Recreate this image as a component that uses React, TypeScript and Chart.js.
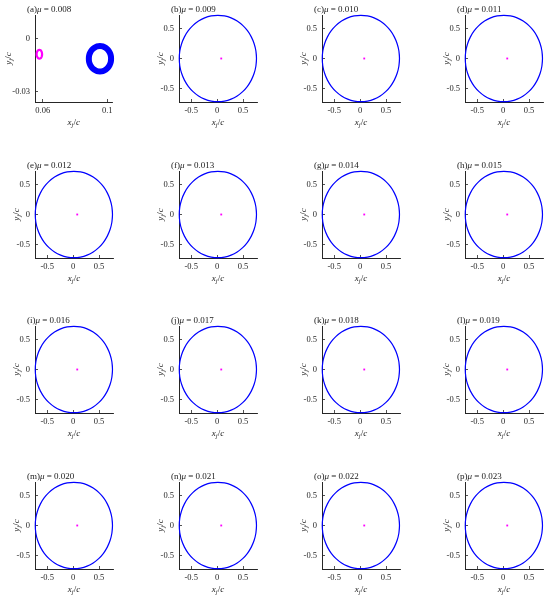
import React, { useEffect, useRef } from "react";
import { Chart, registerables } from "chart.js";

Chart.register(...registerables);

// ---------- data ----------
const panelLetters = ["a", "b", "c", "d", "e", "f", "g", "h", "i", "j", "k", "l", "m", "n", "o", "p"];
const muValues = ["0.008", "0.009", "0.010", "0.011", "0.012", "0.013", "0.014", "0.015", "0.016", "0.017", "0.018", "0.019", "0.020", "0.021", "0.022", "0.023"];

// orbit (panels b–p)
const orbitX = [0.76, 0.749, 0.715, 0.66, 0.586, 0.494, 0.388, 0.27, 0.144, 0.015, -0.114, -0.24, -0.358, -0.464, -0.556, -0.63, -0.685, -0.719, -0.73, -0.719, -0.685, -0.63, -0.556, -0.464, -0.358, -0.24, -0.114, 0.015, 0.144, 0.27, 0.388, 0.494, 0.586, 0.66, 0.715, 0.749];
const orbitY = [0, 0.126, 0.248, 0.363, 0.466, 0.555, 0.628, 0.681, 0.714, 0.725, 0.714, 0.681, 0.628, 0.555, 0.466, 0.363, 0.248, 0.126, 0, -0.126, -0.248, -0.363, -0.466, -0.555, -0.628, -0.681, -0.714, -0.725, -0.714, -0.681, -0.628, -0.555, -0.466, -0.363, -0.248, -0.126];
const companionX = [0.08];
const companionY = [0];

// panel (a)
const ringAX = [0.1024, 0.1022, 0.1015, 0.1004, 0.099, 0.0973, 0.0955, 0.0937, 0.0921, 0.0906, 0.0895, 0.0888, 0.0886, 0.0888, 0.0895, 0.0906, 0.0921, 0.0937, 0.0955, 0.0973, 0.099, 0.1004, 0.1015, 0.1022];
const ringAY = [-0.0113, -0.0094, -0.0077, -0.0062, -0.0051, -0.0043, -0.0041, -0.0043, -0.0051, -0.0062, -0.0077, -0.0094, -0.0113, -0.0132, -0.0149, -0.0164, -0.0175, -0.0183, -0.0185, -0.0183, -0.0175, -0.0164, -0.0149, -0.0132];
const magRingAX = [0.0596, 0.0594, 0.0588, 0.0579, 0.0571, 0.0564, 0.0562, 0.0564, 0.0571, 0.0579, 0.0588, 0.0594];
const magRingAY = [-0.0087, -0.0075, -0.0065, -0.0062, -0.0065, -0.0075, -0.0087, -0.01, -0.0109, -0.0112, -0.0109, -0.01];

// ticks & ranges
const orbitTicks = [-0.5, 0, 0.5];
const orbitTickLabels = ["-0.5", "0", "0.5"];
const orbitXRange = [-0.735, 0.77];
const orbitYRange = [-0.73, 0.73];
const panelAXTicks = [0.06, 0.1];
const panelAXTickLabels = ["0.06", "0.1"];
const panelAYTicks = [-0.03, 0];
const panelAYTickLabels = ["-0.03", "0"];
const panelAXRange = [0.0552, 0.1033];
const panelAYRange = [-0.0359, 0.0136];

// ---------- layout ----------
const CANVAS_W = 120;
const CANVAS_H = 131;
const canvasLeft = [0, 144, 287, 430];
const canvasTop = [0, 156, 311, 467];
const FONT = "'Liberation Serif', 'DejaVu Serif', serif";
const AXIS_COLOR = "#262626";

type Run = { t: string; it?: boolean; sz: number; dy?: number };

function runFont(r: Run) {
  return `${r.it ? "italic " : ""}${r.sz}px ${FONT}`;
}

function drawRuns(ctx: CanvasRenderingContext2D, runs: Run[], x: number, y: number, align: "left" | "center") {
  ctx.save();
  ctx.textBaseline = "alphabetic";
  ctx.textAlign = "left";
  let total = 0;
  const widths = runs.map((r) => {
    ctx.font = runFont(r);
    const w = ctx.measureText(r.t).width;
    total += w;
    return w;
  });
  let cx = align === "center" ? x - total / 2 : x;
  runs.forEach((r, i) => {
    ctx.font = runFont(r);
    ctx.fillText(r.t, cx, y + (r.dy || 0));
    cx += widths[i];
  });
  ctx.restore();
}

function labelRuns(v: string): Run[] {
  return [
    { t: v, it: true, sz: 9 },
    { t: "j", it: true, sz: 6.5, dy: 2.5 },
    { t: "/", sz: 9 },
    { t: "c", it: true, sz: 9 },
  ];
}

// closed loop: wrap one point on each side so the smoothing has neighbours at the seam
function closedLoop(xs: number[], ys: number[]) {
  const n = xs.length;
  const pts = xs.map((x, i) => ({ x, y: ys[i] }));
  return [pts[n - 1], ...pts, pts[0], pts[1]];
}

function toPts(xs: number[], ys: number[]) {
  return xs.map((x, i) => ({ x, y: ys[i] }));
}

function makeConfig(idx: number): any {
  const isA = idx === 0;
  const letter = panelLetters[idx];
  const mu = muValues[idx];

  const textPlugin = {
    id: "panelText" + idx,
    afterDraw(chart: any) {
      const ctx: CanvasRenderingContext2D = chart.ctx;
      const a = chart.chartArea;
      ctx.save();
      ctx.fillStyle = "#1a1a1a";
      drawRuns(
        ctx,
        [
          { t: `(${letter})`, sz: 9 },
          { t: "μ", it: true, sz: 9 },
          { t: ` = ${mu}`, sz: 9 },
        ],
        a.left - 8,
        a.top - 3,
        "left"
      );
      drawRuns(ctx, labelRuns("x"), (a.left + a.right) / 2, a.bottom + 22.5, "center");
      ctx.save();
      ctx.translate(a.left - (isA ? 27 : 19), (a.top + a.bottom) / 2);
      ctx.rotate(-Math.PI / 2);
      drawRuns(ctx, labelRuns("y"), 0, 2.5, "center");
      ctx.restore();
      ctx.restore();
    },
  };

  const datasets = isA
    ? [
        {
          data: closedLoop(magRingAX, magRingAY),
          showLine: true,
          borderColor: "#ff00ff",
          borderWidth: 2.2,
          borderJoinStyle: "round",
          pointRadius: 0,
          tension: 0.3,
          clip: 10,
        },
        {
          data: closedLoop(ringAX, ringAY),
          showLine: true,
          borderColor: "#0000ff",
          borderWidth: 6,
          borderJoinStyle: "round",
          pointRadius: 0,
          tension: 0.3,
          clip: 10,
        },
      ]
    : [
        {
          data: closedLoop(orbitX, orbitY),
          showLine: true,
          borderColor: "#0000ff",
          borderWidth: 1.2,
          borderJoinStyle: "round",
          pointRadius: 0,
          tension: 0.35,
          clip: 6,
        },
        {
          data: toPts(companionX, companionY),
          showLine: false,
          pointRadius: 1.3,
          pointStyle: "rect",
          backgroundColor: "#ff00ff",
          borderWidth: 0,
        },
      ];

  const xTicks = isA ? panelAXTicks : orbitTicks;
  const xLabels = isA ? panelAXTickLabels : orbitTickLabels;
  const yTicks = isA ? panelAYTicks : orbitTicks;
  const yLabels = isA ? panelAYTickLabels : orbitTickLabels;
  const xr = isA ? panelAXRange : orbitXRange;
  const yr = isA ? panelAYRange : orbitYRange;

  const tickFont = { family: FONT, size: 8.5 };
  const grid = {
    drawOnChartArea: false,
    drawTicks: true,
    tickLength: -3,
    color: AXIS_COLOR,
    lineWidth: 0.8,
  };
  const border = { display: true, color: AXIS_COLOR, width: 1 };

  return {
    type: "scatter",
    data: { datasets },
    options: {
      responsive: false,
      animation: false,
      events: [],
      layout: { padding: { top: 15, right: 7, left: 0, bottom: 0 } },
      plugins: { legend: { display: false }, tooltip: { enabled: false } },
      scales: {
        x: {
          type: "linear",
          position: "bottom",
          min: xr[0],
          max: xr[1],
          afterBuildTicks: (s: any) => {
            s.ticks = xTicks.map((v) => ({ value: v }));
          },
          afterFit: (s: any) => {
            s.height = CANVAS_H - 15 - 87;
          },
          ticks: {
            font: tickFont,
            color: AXIS_COLOR,
            padding: 7,
            maxRotation: 0,
            autoSkip: false,
            callback: (v: number) => {
              const i = xTicks.indexOf(v);
              return i >= 0 ? xLabels[i] : "";
            },
          },
          grid,
          border,
        },
        y: {
          type: "linear",
          position: "left",
          min: yr[0],
          max: yr[1],
          afterBuildTicks: (s: any) => {
            s.ticks = yTicks.map((v) => ({ value: v }));
          },
          afterFit: (s: any) => {
            s.width = 35;
          },
          ticks: {
            font: tickFont,
            color: AXIS_COLOR,
            padding: 8,
            autoSkip: false,
            callback: (v: number) => {
              const i = yTicks.indexOf(v);
              return i >= 0 ? yLabels[i] : "";
            },
          },
          grid,
          border,
        },
      },
    },
    plugins: [textPlugin],
  };
}

function Panel({ idx }: { idx: number }) {
  const ref = useRef<HTMLCanvasElement>(null);
  useEffect(() => {
    const chart = new Chart(ref.current as HTMLCanvasElement, makeConfig(idx));
    return () => chart.destroy();
  }, [idx]);
  const col = idx % 4;
  const row = Math.floor(idx / 4);
  return (
    <canvas
      ref={ref}
      width={CANVAS_W}
      height={CANVAS_H}
      style={{
        position: "absolute",
        left: canvasLeft[col],
        top: canvasTop[row],
        width: CANVAS_W,
        height: CANVAS_H,
      }}
    />
  );
}

export default function App() {
  return (
    <div
      style={{
        position: "absolute",
        left: 0,
        top: 0,
        width: 550,
        height: 598,
        overflow: "hidden",
        background: "#fff",
      }}
    >
      {panelLetters.map((_, i) => (
        <Panel key={i} idx={i} />
      ))}
    </div>
  );
}
